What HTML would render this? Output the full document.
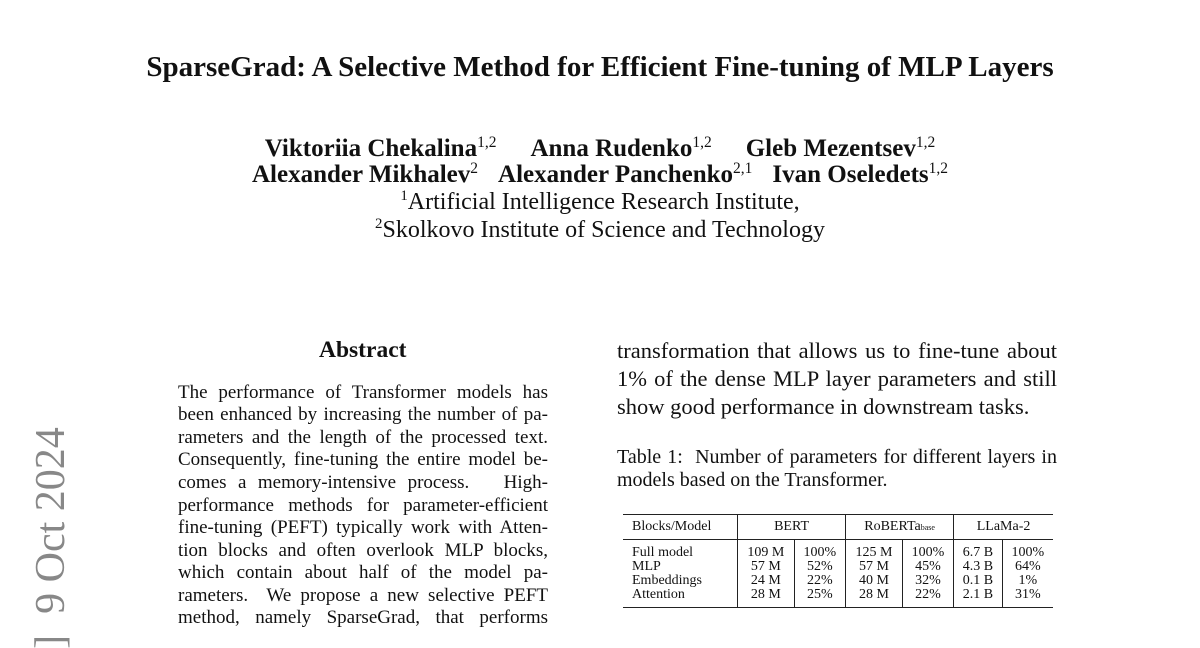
<!DOCTYPE html>
<html><head><meta charset="utf-8"><style>
body{margin:0;width:1200px;height:648px;background:#fff;position:relative;overflow:hidden;font-family:"Liberation Serif",serif;color:#111}
.a{position:absolute;white-space:nowrap}
.c{position:absolute;left:0;width:1200px;text-align:center;white-space:nowrap}
.j{position:absolute;text-align:justify;text-align-last:justify;white-space:nowrap}
.ab{left:178px;width:370px;font-size:19px;line-height:22px}
.rc{left:617px;width:440px;font-size:22.5px;line-height:28px}
sup{font-size:62%;vertical-align:0;position:relative;top:-0.6em}
table{border-collapse:collapse;font-size:14px;line-height:14px}
td{padding:0 4px;text-align:center}
.g{display:inline-block}
</style></head><body>
<div class="c" style="top:50px;font-size:29px;font-weight:bold;line-height:34px">SparseGrad: A Selective Method for Efficient Fine-tuning of MLP Layers</div>
<div class="c" style="top:135px;font-size:25px;font-weight:bold;line-height:28px">Viktoriia Chekalina<sup style="font-weight:normal">1,2</sup><span class="g" style="width:34px"></span>Anna Rudenko<sup style="font-weight:normal">1,2</sup><span class="g" style="width:34px"></span>Gleb Mezentsev<sup style="font-weight:normal">1,2</sup></div>
<div class="c" style="top:161px;font-size:25px;font-weight:bold;line-height:28px">Alexander Mikhalev<sup style="font-weight:normal">2</sup><span class="g" style="width:20px"></span>Alexander Panchenko<sup style="font-weight:normal">2,1</sup><span class="g" style="width:20px"></span>Ivan Oseledets<sup style="font-weight:normal">1,2</sup></div>
<div class="c" style="top:188px;font-size:24px;line-height:28px"><sup>1</sup>Artificial Intelligence Research Institute,</div>
<div class="c" style="top:216px;font-size:24px;line-height:28px"><sup>2</sup>Skolkovo Institute of Science and Technology</div>

<div class="a" style="left:22px;top:430px;width:58px;height:215px">
<div style="position:absolute;left:50%;top:50%;transform:translate(-50%,-50%) rotate(-90deg);font-size:42px;color:#888;white-space:nowrap;line-height:50px">]&nbsp;&nbsp;9 Oct 2024</div></div>

<div class="a" style="left:319px;top:336px;font-size:23.5px;font-weight:bold;line-height:28px">Abstract</div>
<div class="j ab" style="top:382px">The performance of Transformer models has</div>
<div class="j ab" style="top:404px">been enhanced by increasing the number of pa-</div>
<div class="j ab" style="top:427px">rameters and the length of the processed text.</div>
<div class="j ab" style="top:449px">Consequently, fine-tuning the entire model be-</div>
<div class="j ab" style="top:472px">comes a memory-intensive process. &nbsp; High-</div>
<div class="j ab" style="top:495px">performance methods for parameter-efficient</div>
<div class="j ab" style="top:517px">fine-tuning (PEFT) typically work with Atten-</div>
<div class="j ab" style="top:540px">tion blocks and often overlook MLP blocks,</div>
<div class="j ab" style="top:562px">which contain about half of the model pa-</div>
<div class="j ab" style="top:585px">rameters. &nbsp;We propose a new selective PEFT</div>
<div class="j ab" style="top:607px">method, namely SparseGrad, that performs</div>

<div class="j rc" style="top:337px">transformation that allows us to fine-tune about</div>
<div class="j rc" style="top:365px">1% of the dense MLP layer parameters and still</div>
<div class="a rc" style="top:393px;position:absolute">show good performance in downstream tasks.</div>

<div class="j" style="left:617px;width:440px;font-size:20px;line-height:23px;top:446px">Table 1: &nbsp;Number of parameters for different layers in</div>
<div class="a" style="left:617px;font-size:20px;line-height:23px;top:469px">models based on the Transformer.</div>

<div class="a" style="left:623px;top:514px;width:430px">
<table style="width:430px;border-top:1.5px solid #222;border-bottom:1.5px solid #222">
<tr style="border-bottom:1px solid #222"><td style="text-align:left;padding:5px 4px 5px 9px;border-right:1px solid #222">Blocks/Model</td><td colspan="2" style="border-right:1px solid #222">BERT</td><td colspan="2" style="border-right:1px solid #222">RoBERTa<span style="font-size:8px">base</span></td><td colspan="2">LLaMa-2</td></tr>
<tr><td style="text-align:left;border-right:1px solid #222;padding:6px 4px 0 9px">Full model</td><td style="border-right:1px solid #222;padding-top:6px">109 M</td><td style="border-right:1px solid #222;padding-top:6px">100%</td><td style="border-right:1px solid #222;padding-top:6px">125 M</td><td style="border-right:1px solid #222;padding-top:6px">100%</td><td style="border-right:1px solid #222;padding-top:6px">6.7 B</td><td style="padding-top:6px">100%</td></tr>
<tr><td style="text-align:left;border-right:1px solid #222;padding-left:9px">MLP</td><td style="border-right:1px solid #222">57 M</td><td style="border-right:1px solid #222">52%</td><td style="border-right:1px solid #222">57 M</td><td style="border-right:1px solid #222">45%</td><td style="border-right:1px solid #222">4.3 B</td><td>64%</td></tr>
<tr><td style="text-align:left;border-right:1px solid #222;padding-left:9px">Embeddings</td><td style="border-right:1px solid #222">24 M</td><td style="border-right:1px solid #222">22%</td><td style="border-right:1px solid #222">40 M</td><td style="border-right:1px solid #222">32%</td><td style="border-right:1px solid #222">0.1 B</td><td>1%</td></tr>
<tr><td style="text-align:left;border-right:1px solid #222;padding:0 4px 5px 9px">Attention</td><td style="border-right:1px solid #222;padding-bottom:5px">28 M</td><td style="border-right:1px solid #222;padding-bottom:5px">25%</td><td style="border-right:1px solid #222;padding-bottom:5px">28 M</td><td style="border-right:1px solid #222;padding-bottom:5px">22%</td><td style="border-right:1px solid #222;padding-bottom:5px">2.1 B</td><td style="padding-bottom:5px">31%</td></tr>
</table></div>
</body></html>
